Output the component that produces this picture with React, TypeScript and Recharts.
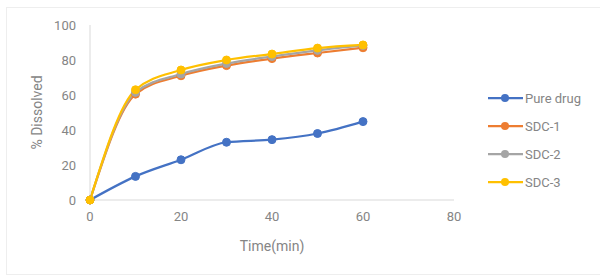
import React from "react";
import { LineChart, Line, XAxis, YAxis } from "recharts";

const times = [0, 10, 20, 30, 40, 50, 60];
const pureDrug = [0, 13.5, 23, 33, 34.5, 38, 44.8];
const sdc1 = [0, 60.5, 71, 76.8, 80.8, 84, 87];
const sdc2 = [0, 61.5, 72, 78, 82, 85.5, 88.3];
const sdc3 = [0, 63, 74.3, 80, 83.4, 86.8, 88.6];
const xTicks = [0, 20, 40, 60, 80];
const yTicks = [0, 20, 40, 60, 80, 100];

const series = [
  { key: "pure", name: "Pure drug", color: "#4472C4", values: pureDrug },
  { key: "sdc1", name: "SDC-1", color: "#ED7D31", values: sdc1 },
  { key: "sdc2", name: "SDC-2", color: "#A5A5A5", values: sdc2 },
  { key: "sdc3", name: "SDC-3", color: "#FFC000", values: sdc3 },
];

const data = times.map((t, i) => {
  const row: Record<string, number> = { t };
  series.forEach((s) => (row[s.key] = s.values[i]));
  return row;
});

const FONT = "Roboto, 'Liberation Sans', sans-serif";
const TEXT = "#858585";

export default function App() {
  return (
    <div style={{ position: "absolute", left: 0, top: 0, width: 600, height: 278, background: "#fff", fontFamily: FONT }}>
      <div style={{ position: "absolute", left: 6, top: 7, width: 600, height: 268, border: "1px solid #eeeeee", boxSizing: "border-box" }} />
      <LineChart width={600} height={278} data={data} margin={{ top: 25, right: 146, bottom: 0, left: 0 }} style={{ position: "absolute", left: 0, top: 0 }}>
        <XAxis
          dataKey="t"
          type="number"
          domain={[0, 80]}
          ticks={xTicks}
          height={78}
          tickLine={false}
          tickSize={0}
          tickMargin={12}
          axisLine={{ stroke: "#d9d9d9" }}
          tick={{ fill: TEXT, fontSize: 13, fontFamily: FONT }}
          label={{ value: "Time(min)", position: "insideTop", offset: 41, fill: TEXT, fontSize: 14, fontFamily: FONT }}
        />
        <YAxis
          type="number"
          domain={[0, 100]}
          ticks={yTicks}
          width={90}
          tickLine={false}
          tickSize={0}
          tickMargin={14}
          axisLine={{ stroke: "#d9d9d9" }}
          tick={{ fill: TEXT, fontSize: 13, fontFamily: FONT }}
          label={{ value: "% Dissolved", angle: -90, position: "insideLeft", offset: 37, fill: TEXT, fontSize: 14, fontFamily: FONT, style: { textAnchor: "middle" } }}
        />
        {series.map((s) => (
          <Line
            key={s.key}
            dataKey={s.key}
            name={s.name}
            type="monotone"
            stroke={s.color}
            strokeWidth={2.25}
            dot={{ r: 4, fill: s.color, stroke: s.color, strokeWidth: 1 }}
            isAnimationActive={false}
          />
        ))}
      </LineChart>
      <div style={{ position: "absolute", left: 488, top: 84 }}>
        {series.map((s) => (
          <div key={s.key} style={{ display: "flex", alignItems: "center", height: 28 }}>
            <svg width={36} height={10}>
              <line x1={0} y1={5} x2={35} y2={5} stroke={s.color} strokeWidth={2.25} />
              <circle cx={17} cy={5} r={4} fill={s.color} />
            </svg>
            <span style={{ fontSize: 13, color: TEXT, marginLeft: 1 }}>{s.name}</span>
          </div>
        ))}
      </div>
    </div>
  );
}
